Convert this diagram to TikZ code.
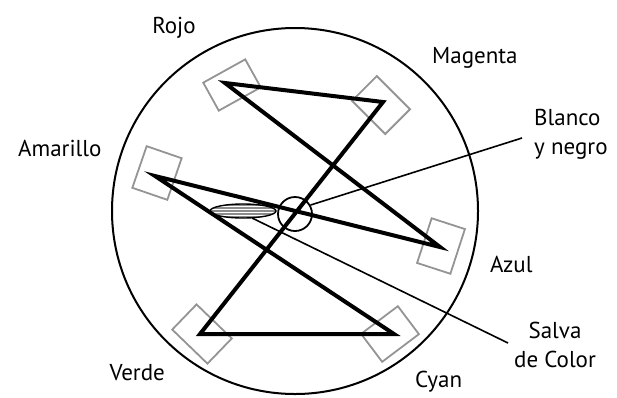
\documentclass[tikz,border=0pt]{standalone}
\usepackage{fontspec}
\setmainfont{PT Sans}
\usetikzlibrary{shapes.geometric}

\tikzset{
  filtro/.style={rectangle, draw=black!42, line width=1.8pt, inner sep=0pt},
  trazo/.style={line width=4pt, line join=miter},
  guia/.style={line width=1.6pt},
  rotulo/.style={font=\fontsize{23}{29}\selectfont, inner sep=0pt},
}

\begin{document}
\begin{tikzpicture}[x=1pt,y=-1pt]
\useasboundingbox (0,0) rectangle (617,397);
% rueda de filtros
\node[circle, draw, line width=2pt, inner sep=0pt, minimum size=366] (rueda) at (295,211) {};
% filtros
\node[filtro, minimum width=48, minimum height=32, rotate=29]  (fRojo)     at (232,85)  {};
\node[filtro, minimum width=47, minimum height=35, rotate=-45] (fMagenta)  at (381,105) {};
\node[filtro, minimum width=37, minimum height=44, rotate=-19] (fAmarillo) at (157,173) {};
\node[filtro, minimum width=35, minimum height=47, rotate=-18] (fAzul)     at (441,246) {};
\node[filtro, minimum width=49, minimum height=35, rotate=-44] (fVerde)    at (202,334) {};
\node[filtro, minimum width=35, minimum height=46, rotate=-53] (fCyan)     at (390,334) {};
% puntos del trazo
\coordinate (rojo)     at (225,83);
\coordinate (magenta)  at (383,102);
\coordinate (amarillo) at (155,176);
\coordinate (azul)     at (440,247);
\coordinate (verde)    at (200,334);
\coordinate (cyan)     at (394,334);
% salva de color
\node[ellipse, draw, line width=1.4pt, fill=black!45, inner sep=0pt,
      minimum width=66, minimum height=14,
      path picture={\foreach \d in {-4.5,-1.5,1.5,4.5}
        \draw[white, line width=1.1pt] ([yshift=\d pt]path picture bounding box.west)
          -- ([yshift=\d pt]path picture bounding box.east);}] (salva) at (243,211) {};
\draw[trazo] (rojo) -- (magenta) -- (verde) -- (cyan) -- (amarillo) -- (azul) -- cycle;
% blanco y negro
\node[circle, draw, line width=1.8pt, inner sep=0pt, minimum size=34] (chica) at (295,214) {};
% guias
\coordinate (bnFin)    at (522,138);
\coordinate (salvaIni) at (252,218);
\coordinate (salvaFin) at (508,343);
\draw[guia] (chica.30) -- (bnFin);
\draw[guia] (salvaIni) -- (salvaFin);
% rotulos
\node[rotulo, anchor=base]      (tRojo)     at (174,33)  {Rojo};
\node[rotulo, anchor=base west] (tMagenta)  at (432,63)  {Magenta};
\node[rotulo, anchor=base west] (tAmarillo) at (18,156)  {Amarillo};
\node[rotulo, anchor=base west] (tAzul)     at (490,272) {Azul};
\node[rotulo, anchor=base east] (tVerde)    at (165,380) {Verde};
\node[rotulo, anchor=base west] (tCyan)     at (415,387) {Cyan};
\node[rotulo, anchor=north west, align=left]  (tBlanco) at (534,109) {Blanco\\y negro};
\node[rotulo, anchor=north, align=center]     (tSalva)  at (555,322) {Salva\\de Color};
\end{tikzpicture}
\end{document}
